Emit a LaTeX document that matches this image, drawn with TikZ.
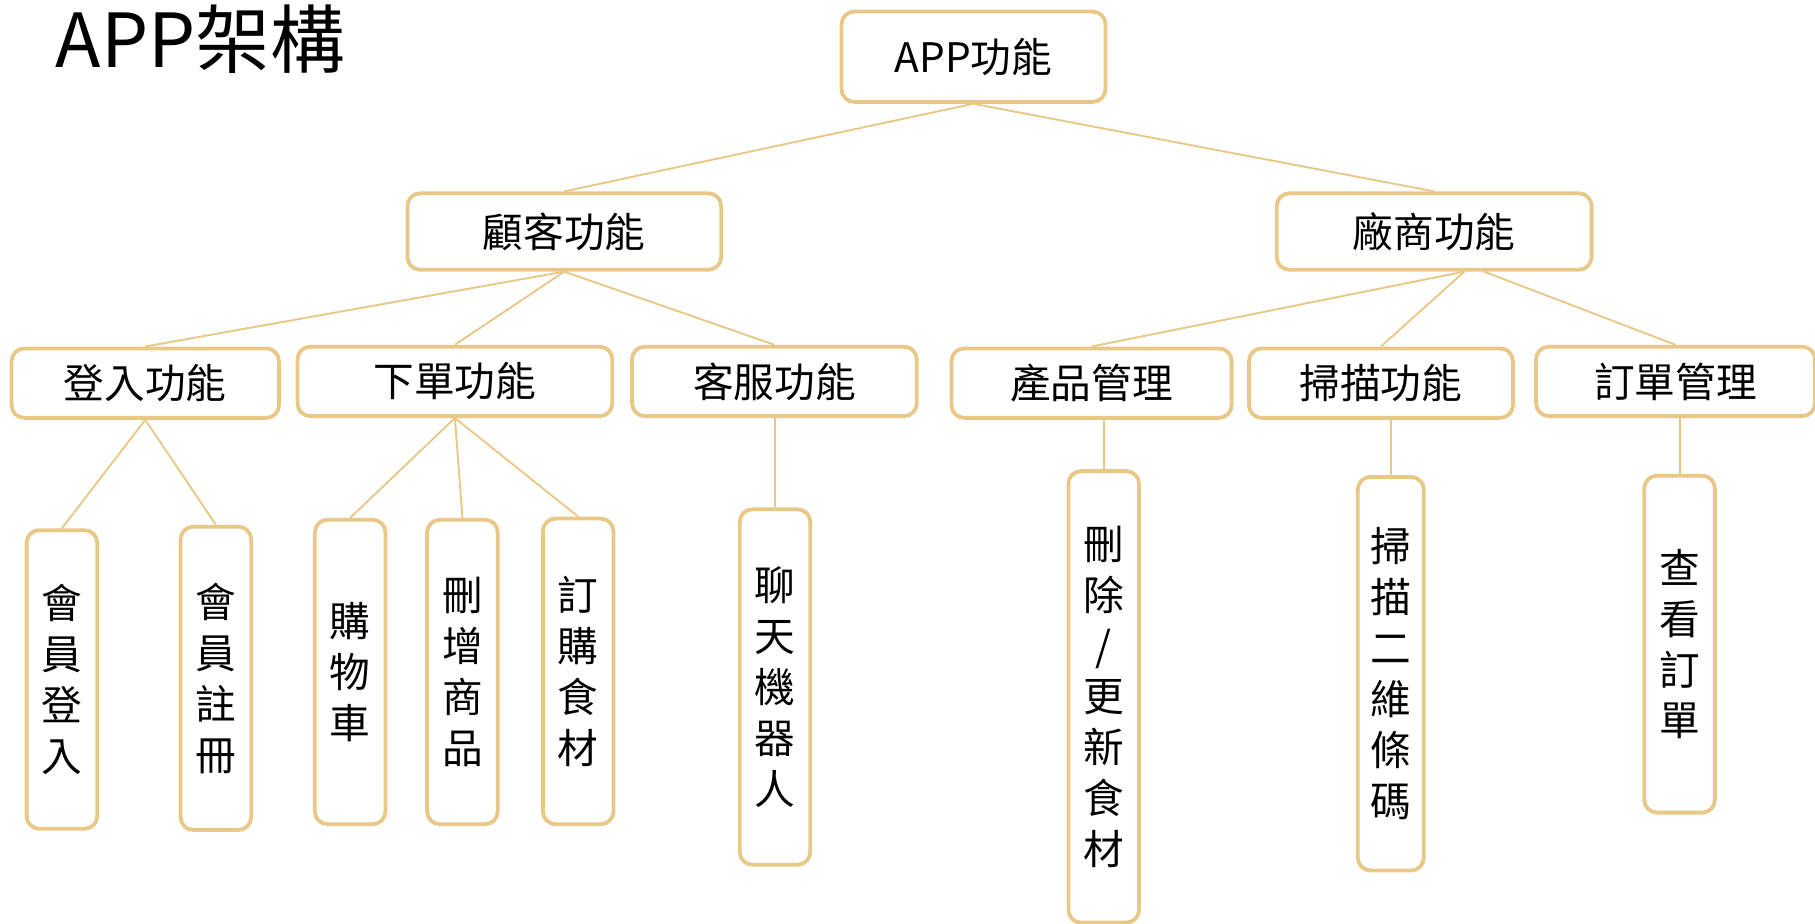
\documentclass[tikz,border=0pt]{standalone}
\usepackage{fontspec}
\setmainfont{Noto Sans CJK TC}
\definecolor{gold}{RGB}{233,199,135}
\tikzset{%
	func/.style={draw=gold,line width=2.8pt,rounded corners=0.33cm,inner sep=0pt,font=\fontsize{30}{36}\selectfont},
	leaf/.style={func,minimum width=1.83cm,align=center,font=\fontsize{30}{37.5}\selectfont},
	link/.style={draw=gold,line width=1.4pt},
}
\begin{document}
\begin{tikzpicture}[x=0.03cm,y=-0.03cm]
	\useasboundingbox (0,0) rectangle (1568,798);
	\node[anchor=base west,inner sep=0pt,font=\fontsize{55}{62}\selectfont] (title) at (48,58) {APP架構};
	% levels
	\node[func,minimum width=6.84cm,minimum height=2.34cm] (app) at (841,49) {APP功能};
	\node[func,minimum width=8.13cm,minimum height=1.98cm] (cust) at (487.5,200) {顧客功能};
	\node[func,minimum width=8.16cm,minimum height=1.98cm] (vend) at (1239,200) {廠商功能};
	\node[func,minimum width=6.93cm,minimum height=1.8cm] (login) at (125.5,331) {登入功能};
	\node[func,minimum width=8.16cm,minimum height=1.8cm] (order) at (393,329.5) {下單功能};
	\node[func,minimum width=7.38cm,minimum height=1.8cm] (service) at (669,329.5) {客服功能};
	\node[func,minimum width=7.26cm,minimum height=1.8cm] (product) at (943,331) {產品管理};
	\node[func,minimum width=6.84cm,minimum height=1.8cm] (scan) at (1193,331) {掃描功能};
	\node[func,minimum width=7.23cm,minimum height=1.8cm] (manage) at (1447.5,329.5) {訂單管理};
	% leaves
	\node[leaf,minimum height=7.74cm] (signin) at (53.5,587) {會\\員\\登\\入};
	\node[leaf,minimum height=7.86cm] (signup) at (186.5,586) {會\\員\\註\\冊};
	\node[leaf,minimum height=7.89cm] (cart) at (302.5,580.5) {購\\物\\車};
	\node[leaf,minimum height=7.89cm] (edit) at (399.5,580.5) {刪\\增\\商\\品};
	\node[leaf,minimum height=7.92cm] (buy) at (499.5,580) {訂\\購\\食\\材};
	\node[leaf,minimum height=9.21cm] (bot) at (669.5,593.5) {聊\\天\\機\\器\\人};
	\node[leaf,minimum height=11.7cm] (update) at (953.5,602) {刪\\除\\/\\更\\新\\食\\材};
	\node[leaf,minimum height=10.2cm,minimum width=1.71cm] (qr) at (1201.5,582) {掃\\描\\二\\維\\條\\碼};
	\node[leaf,minimum height=8.73cm] (check) at (1451,556.5) {查\\看\\訂\\單};
	% links
	\draw[link] (app.south) -- (cust.north);
	\draw[link] (app.south) -- (vend.north);
	\draw[link] (cust.south) -- (login.north);
	\draw[link] (cust.south) -- (order.north);
	\draw[link] (cust.south) -- (service.north);
	\draw[link] ([xshift=0.78cm]vend.south) -- (product.north);
	\draw[link] ([xshift=0.78cm]vend.south) -- (scan.north);
	\draw[link] ([xshift=1.29cm]vend.south) -- (manage.north);
	\draw[link] (login.south) -- (signin.north);
	\draw[link] (login.south) -- (signup.north);
	\draw[link] (order.south) -- (cart.north);
	\draw[link] (order.south) -- (edit.north);
	\draw[link] (order.south) -- (buy.north);
	\draw[link] (bot.north |- service.south) -- (bot.north);
	\draw[link] (update.north |- product.south) -- (update.north);
	\draw[link] (qr.north |- scan.south) -- (qr.north);
	\draw[link] (check.north |- manage.south) -- (check.north);
\end{tikzpicture}
\end{document}
